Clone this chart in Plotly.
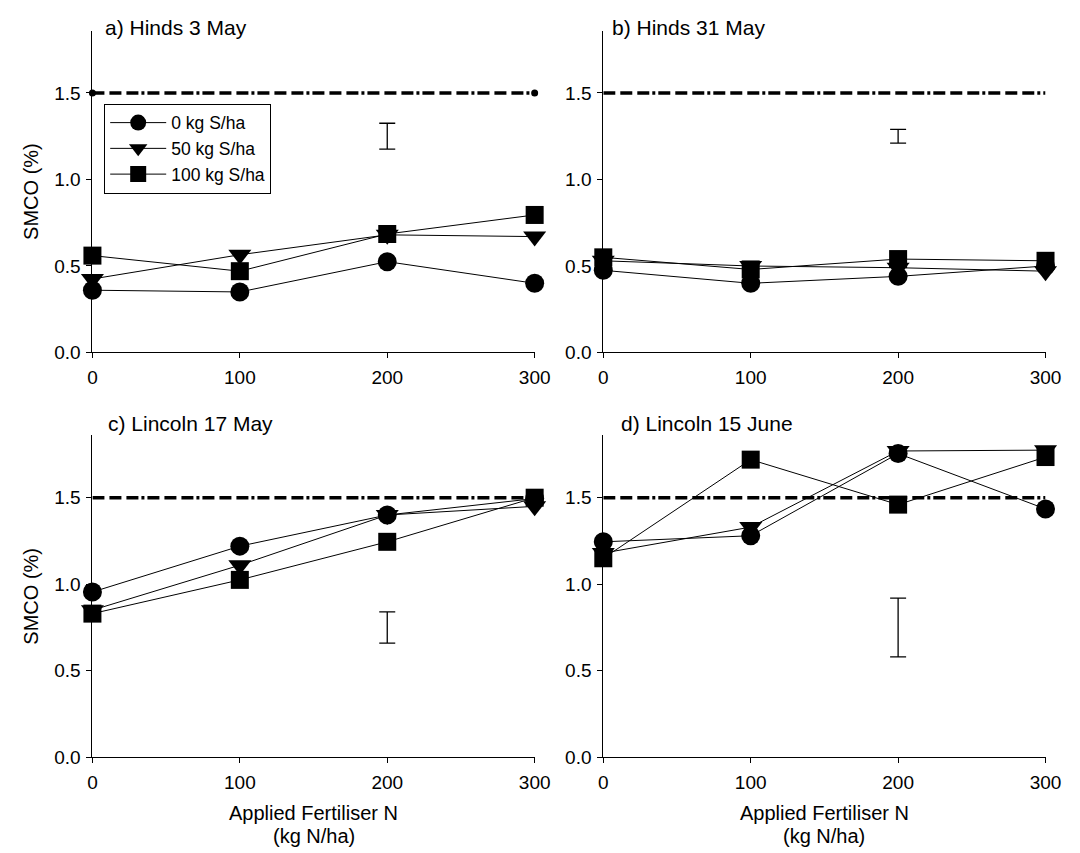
import plotly.graph_objects as go

N = [0, 100, 200, 300]

panel_titles = ["a) Hinds 3 May", "b) Hinds 31 May", "c) Lincoln 17 May", "d) Lincoln 15 June"]
x_title_lines = ["Applied Fertiliser N", "(kg N/ha)"]
y_title = "SMCO (%)"

a_s0 = [0.36, 0.35, 0.525, 0.40]
a_s50 = [0.425, 0.565, 0.68, 0.67]
a_s100 = [0.56, 0.47, 0.685, 0.795]

b_s0 = [0.475, 0.40, 0.44, 0.50]
b_s50 = [0.53, 0.50, 0.49, 0.47]
b_s100 = [0.55, 0.48, 0.54, 0.53]

c_s0 = [0.955, 1.22, 1.40, 1.495]
c_s50 = [0.85, 1.11, 1.40, 1.45]
c_s100 = [0.83, 1.025, 1.245, 1.50]

d_s0 = [1.245, 1.28, 1.755, 1.435]
d_s50 = [1.18, 1.33, 1.77, 1.775]
d_s100 = [1.15, 1.72, 1.46, 1.735]

series_names = ["0 kg S/ha", "50 kg S/ha", "100 kg S/ha"]
symbols = ["circle", "triangle-down", "square"]
sizes = [19, 20, 18]

err_x = [200, 200, 200, 200]
err_center = [1.25, 1.25, 0.75, 0.75]
err_half = [0.075, 0.04, 0.09, 0.17]

threshold = 1.5
yticks = [0.0, 0.5, 1.0, 1.5]
ytick_text = ["0.0", "0.5", "1.0", "1.5"]
xticks = [0, 100, 200, 300]

panels = [
    (a_s0, a_s50, a_s100),
    (b_s0, b_s50, b_s100),
    (c_s0, c_s50, c_s100),
    (d_s0, d_s50, d_s100),
]

W, H = 1080, 853
xdoms = [[81 / W, 532 / W], [602 / W, 1053 / W]]
ydoms = [[(H - 349) / H, (H - 23) / H], [(H - 759) / H, (H - 433) / H]]
title_dx = [11, 7, 14, 16]
title_y = [20, 20, 421, 421]
xtitle_y = [816, 839]

FONT = "Liberation Sans, Arial, sans-serif"
fig = go.Figure()

for i, data in enumerate(panels):
    idx = i + 1
    xa = "x" if idx == 1 else f"x{idx}"
    ya = "y" if idx == 1 else f"y{idx}"
    # threshold line
    fig.add_trace(go.Scatter(
        x=[N[0], N[-1]], y=[threshold, threshold], xaxis=xa, yaxis=ya,
        mode="lines+markers" if idx == 1 else "lines",
        line=dict(color="black", width=3.4, dash="12px,5px,12px,5px,12px,3px,3px,3px"),
        marker=dict(size=7, color="black"),
        showlegend=False, cliponaxis=False, hoverinfo="skip"))
    # error bar (LSD)
    fig.add_trace(go.Scatter(
        x=[err_x[i]], y=[err_center[i]], xaxis=xa, yaxis=ya, mode="markers",
        marker=dict(size=1, color="rgba(0,0,0,0)"),
        error_y=dict(type="data", array=[err_half[i]], visible=True,
                     color="black", thickness=1.3, width=8),
        showlegend=False, hoverinfo="skip"))
    for k, vals in enumerate(data):
        fig.add_trace(go.Scatter(
            x=N, y=vals, xaxis=xa, yaxis=ya, mode="lines+markers",
            name=series_names[k],
            line=dict(color="black", width=1),
            marker=dict(symbol=symbols[k], size=sizes[k], color="black"),
            showlegend=(idx == 1), cliponaxis=False))

    row = 0 if idx <= 2 else 1
    col = (idx - 1) % 2
    axis_common = dict(showline=True, linecolor="black", linewidth=1,
                       ticks="outside", ticklen=5, tickwidth=1, tickcolor="black",
                       showgrid=False, zeroline=False,
                       tickfont=dict(family=FONT, size=19, color="black"))
    xkey = "xaxis" if idx == 1 else f"xaxis{idx}"
    ykey = "yaxis" if idx == 1 else f"yaxis{idx}"
    ytitle = dict(text=y_title, standoff=10,
                  font=dict(family=FONT, size=20, color="black")) if col == 0 else None
    fig.update_layout(**{
        xkey: dict(domain=xdoms[col], range=[0, 300], tickvals=xticks,
                   anchor=ya, ticklabelstandoff=3, **axis_common),
        ykey: dict(domain=ydoms[row], range=[0, 1.86], tickvals=yticks,
                   ticktext=ytick_text, anchor=xa, title=ytitle,
                   ticklabelstandoff=2, **axis_common),
    })
    fig.add_annotation(
        x=xdoms[col][0] + title_dx[i] / W, y=(H - title_y[i]) / H,
        xref="paper", yref="paper",
        text=panel_titles[i], showarrow=False, xanchor="left", yanchor="middle",
        font=dict(family=FONT, size=21, color="black"))
    if row == 1:
        for line_text, ly in zip(x_title_lines, xtitle_y):
            fig.add_annotation(
                x=(xdoms[col][0] + xdoms[col][1]) / 2, y=(H - ly) / H,
                xref="paper", yref="paper", text=line_text, showarrow=False,
                xanchor="center", yanchor="middle",
                font=dict(family=FONT, size=20, color="black"))

fig.update_layout(
    width=W, height=H, margin=dict(l=0, r=0, t=0, b=0),
    paper_bgcolor="white", plot_bgcolor="white",
    legend=dict(x=93 / W, y=(H - 97) / H, xanchor="left", yanchor="top",
                bordercolor="black", borderwidth=1, bgcolor="white",
                itemwidth=56, tracegroupgap=0,
                font=dict(family=FONT, size=17.5, color="black")),
    showlegend=True,
)

fig.write_html("out.html")
